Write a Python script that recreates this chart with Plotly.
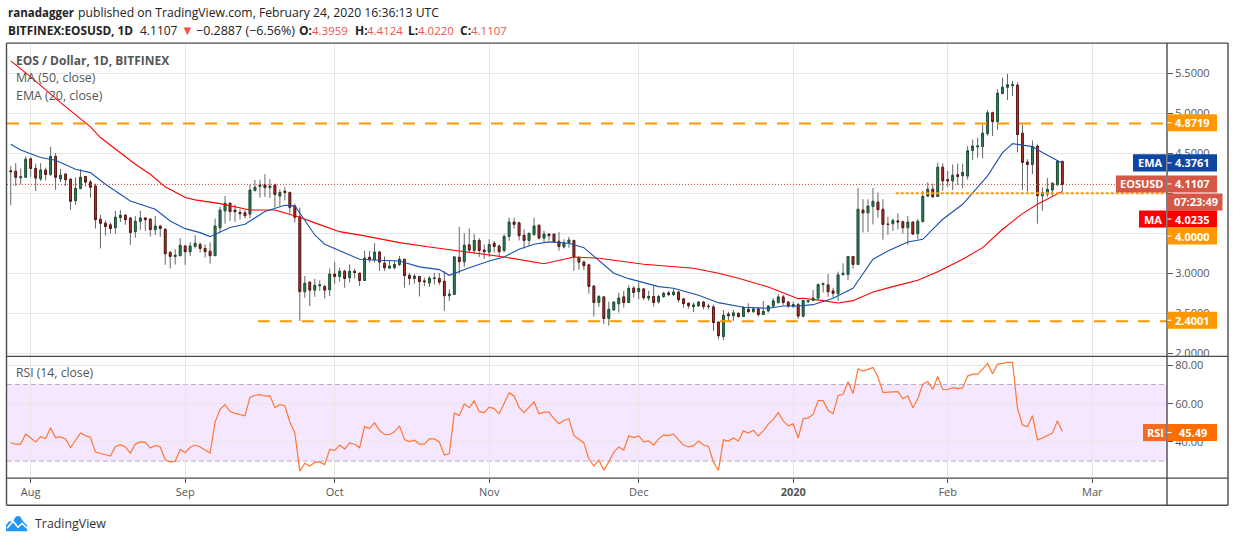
import pandas as pd
import plotly.graph_objects as go

W, H = 1234, 541
H_PAPER = 535.7

first_day = "2019-07-28"
opens = [4.28,4.275,4.195,4.20,4.43,4.31,4.18,4.29,4.235,4.46,
 4.18,4.24,4.175,3.91,4.06,4.21,4.14,4.09,3.675,3.625,
 3.605,3.57,3.695,3.725,3.69,3.52,3.65,3.69,3.675,3.545,
 3.59,3.55,3.26,3.21,3.22,3.34,3.27,3.335,3.36,3.31,
 3.275,3.22,3.57,3.78,3.875,3.79,3.76,3.755,3.74,4.035,
 4.085,4.105,4.07,4.105,3.965,4.025,4.01,3.84,3.705,2.77,
 2.89,2.79,2.845,2.835,2.795,2.99,2.96,3.025,2.945,3.025,
 3.00,2.91,3.20,3.17,3.265,3.125,3.065,3.07,3.11,3.175,
 2.975,2.935,2.96,2.905,2.88,2.935,2.935,2.90,2.72,2.735,
 3.20,3.145,3.355,3.285,3.41,3.29,3.265,3.375,3.34,3.285,
 3.46,3.64,3.63,3.475,3.41,3.485,3.60,3.44,3.49,3.49,
 3.40,3.33,3.385,3.41,3.195,3.14,3.105,2.84,2.635,2.705,
 2.435,2.545,2.62,2.705,2.635,2.815,2.77,2.805,2.69,2.71,
 2.645,2.71,2.755,2.735,2.765,2.68,2.625,2.585,2.595,2.64,
 2.59,2.58,2.39,2.21,2.49,2.47,2.50,2.46,2.55,2.52,
 2.555,2.485,2.53,2.59,2.635,2.705,2.64,2.585,2.61,2.465,
 2.645,2.66,2.69,2.86,2.855,2.78,2.745,2.985,2.985,3.21,
 3.11,3.79,3.755,3.835,3.89,3.80,3.615,3.62,3.655,3.645,
 3.57,3.64,3.495,3.645,3.965,4.05,3.96,4.325,4.17,4.155,
 4.23,4.22,4.215,4.535,4.58,4.585,4.745,5.005,4.895,5.245,
 5.325,5.345,5.35,4.75,4.39,4.36,4.59,3.97,3.99,4.04,4.105,4.3959]
closes = [4.27,4.20,4.205,4.425,4.31,4.19,4.29,4.235,4.46,4.20,
 4.225,4.17,3.90,4.06,4.20,4.14,4.075,3.67,3.625,3.585,
 3.56,3.70,3.725,3.67,3.51,3.65,3.69,3.67,3.545,3.59,
 3.56,3.245,3.21,3.225,3.35,3.27,3.34,3.375,3.31,3.27,
 3.22,3.59,3.79,3.875,3.77,3.77,3.745,3.72,4.04,4.075,
 4.105,4.07,4.09,3.985,4.01,4.01,3.825,3.70,2.77,2.875,
 2.79,2.85,2.855,2.79,2.99,2.96,3.025,2.935,3.025,3.01,
 2.91,3.19,3.17,3.265,3.14,3.07,3.09,3.11,3.175,2.97,
 2.935,2.965,2.895,2.895,2.94,2.94,2.89,2.72,2.74,3.205,
 3.145,3.35,3.29,3.41,3.285,3.27,3.36,3.335,3.27,3.46,
 3.64,3.61,3.47,3.41,3.50,3.59,3.44,3.49,3.47,3.395,
 3.335,3.38,3.415,3.205,3.14,3.095,2.835,2.635,2.71,2.435,
 2.55,2.64,2.69,2.635,2.81,2.76,2.81,2.695,2.71,2.635,
 2.71,2.75,2.735,2.765,2.67,2.62,2.595,2.605,2.64,2.585,
 2.585,2.385,2.22,2.475,2.47,2.505,2.46,2.57,2.52,2.555,
 2.485,2.525,2.59,2.655,2.705,2.635,2.59,2.61,2.465,2.66,
 2.66,2.69,2.86,2.87,2.77,2.75,2.98,3.00,3.21,3.11,
 3.80,3.755,3.84,3.90,3.795,3.61,3.61,3.66,3.64,3.57,
 3.64,3.49,3.65,3.96,4.05,3.955,4.325,4.155,4.155,4.225,
 4.21,4.26,4.53,4.59,4.59,4.75,5.005,4.895,5.25,5.325,
 5.355,5.355,4.735,4.385,4.36,4.585,3.97,4.01,4.05,4.125,4.40,4.1107]
highs = [4.34,4.375,4.31,4.46,4.445,4.37,4.375,4.32,4.58,4.50,
 4.305,4.245,4.185,4.195,4.30,4.215,4.165,4.12,3.73,3.66,
 3.635,3.78,3.79,3.74,3.705,3.715,3.78,3.705,3.69,3.715,
 3.605,3.56,3.28,3.30,3.44,3.355,3.39,3.475,3.385,3.36,
 3.385,3.685,3.83,3.965,3.885,3.86,3.80,3.79,4.11,4.165,
 4.17,4.24,4.175,4.12,4.05,4.08,4.02,3.87,3.82,2.965,
 2.89,2.93,2.91,2.855,3.06,3.14,3.07,3.045,3.11,3.06,
 3.01,3.28,3.28,3.375,3.28,3.21,3.155,3.16,3.215,3.18,
 3.005,2.99,2.965,2.945,2.965,3.005,3.005,3.03,2.80,3.205,
 3.58,3.50,3.56,3.49,3.44,3.36,3.425,3.405,3.36,3.49,
 3.695,3.695,3.645,3.55,3.50,3.695,3.61,3.53,3.50,3.495,
 3.515,3.425,3.455,3.42,3.215,3.16,3.12,2.85,2.73,2.71,
 2.645,2.645,2.76,2.78,2.85,2.84,2.885,2.81,2.78,2.84,
 2.73,2.77,2.78,2.81,2.78,2.695,2.635,2.635,2.655,2.655,
 2.62,2.605,2.395,2.54,2.52,2.54,2.51,2.59,2.625,2.57,
 2.57,2.655,2.605,2.69,2.74,2.73,2.655,2.645,2.635,2.665,
 2.67,2.79,2.87,2.885,2.99,2.82,3.02,3.125,3.21,3.21,
 4.065,3.925,3.925,4.065,4.01,3.925,3.705,3.685,3.75,3.655,
 3.715,3.645,3.68,4.03,4.135,4.12,4.385,4.375,4.28,4.36,
 4.37,4.37,4.59,4.67,4.695,4.855,5.04,5.02,5.30,5.445,
 5.49,5.405,5.385,4.855,4.425,4.66,4.61,4.07,4.19,4.135,4.4125,4.4124]
lows = [3.85,4.09,4.11,4.195,4.205,4.03,4.155,4.16,4.215,4.04,
 4.14,4.09,3.79,3.855,4.05,4.085,3.945,3.56,3.31,3.47,
 3.495,3.495,3.64,3.605,3.355,3.445,3.54,3.53,3.46,3.48,
 3.455,3.105,3.06,3.11,3.215,3.105,3.215,3.31,3.26,3.195,
 3.12,3.215,3.51,3.62,3.655,3.645,3.67,3.685,3.69,4.02,
 3.945,3.955,3.94,3.82,3.84,3.91,3.74,3.635,2.405,2.695,
 2.59,2.705,2.78,2.685,2.715,2.87,2.895,2.82,2.885,2.935,
 2.84,2.905,3.135,3.135,3.03,3.03,3.06,3.05,3.09,2.82,
 2.855,2.87,2.71,2.84,2.83,2.86,2.855,2.53,2.655,2.73,
 2.995,3.08,3.26,3.24,3.205,3.18,3.205,3.26,3.205,3.26,
 3.405,3.56,3.41,3.31,3.34,3.465,3.425,3.385,3.41,3.385,
 3.28,3.31,3.32,3.03,3.045,3.04,2.745,2.46,2.58,2.365,
 2.345,2.53,2.51,2.57,2.63,2.695,2.675,2.665,2.655,2.585,
 2.62,2.69,2.715,2.715,2.635,2.57,2.56,2.515,2.58,2.55,
 2.55,2.28,2.175,2.165,2.405,2.405,2.445,2.455,2.51,2.51,
 2.46,2.48,2.51,2.58,2.62,2.605,2.57,2.57,2.43,2.445,
 2.63,2.655,2.675,2.76,2.705,2.695,2.655,2.965,2.915,3.06,
 3.105,3.51,3.515,3.61,3.695,3.42,3.48,3.53,3.55,3.495,
 3.355,3.48,3.425,3.645,3.955,3.945,3.955,4.03,4.08,4.04,
 4.105,4.06,4.17,4.415,4.445,4.435,4.72,4.715,4.795,5.24,
 5.165,5.215,4.51,4.04,4.02,4.24,3.62,3.78,3.955,3.965,4.105,4.0220]

ma_index = [0,4,10,16,18,22,25,28,31,35,37,42,48,53,58,61,66,71,76,78,84,89,99,107,113,118,127,137,142,146,152,158,159,163,166,169,173,177,182,186,191,195,199,203,206,211]
ma_values = [5.654,5.454,5.133,4.83,4.696,4.508,4.3625,4.2375,4.08,3.946,3.917,3.87,3.79,3.79,3.70,3.63,3.52,3.467,3.41,3.383,3.329,3.2875,3.204,3.12,3.204,3.1875,3.1125,3.0625,3.00,2.9375,2.829,2.683,2.6875,2.658,2.629,2.658,2.767,2.833,2.9125,3.02,3.175,3.32,3.55,3.746,3.8625,4.0235]

ema_index = [0,2,6,9,13,16,19,21,24,29,32,35,38,40,42,44,47,49,51,55,57,59,61,63,66,70,74,78,82,86,88,92,96,99,102,105,108,112,115,118,121,124,130,133,138,142,147,152,155,158,161,165,169,173,176,180,183,187,191,196,199,201,203,205,207,209,211]
ema_values = [4.6125,4.54,4.446,4.4125,4.30,4.258,4.1125,4.03,3.904,3.80,3.654,3.558,3.508,3.458,3.512,3.571,3.6125,3.696,3.771,3.85,3.842,3.6625,3.479,3.3625,3.279,3.175,3.1625,3.154,3.08,3.046,2.975,3.07,3.154,3.204,3.30,3.3625,3.392,3.375,3.32,3.154,3.00,2.933,2.833,2.8125,2.725,2.633,2.575,2.5625,2.592,2.592,2.608,2.6875,2.8125,3.175,3.279,3.392,3.425,3.675,3.8625,4.217,4.508,4.62,4.604,4.583,4.508,4.4375,4.3761]

rsi_values = [39.6,38.9,38.9,44.2,42.1,40,42.8,41.8,47.4,42.3,
 42.6,41.6,37,40.9,44.7,43.3,42.3,34.7,34.2,33.3,
 32.6,37.5,38.6,37.4,34.2,38.9,40,39.8,36.8,38.2,
 37.4,30.7,29.5,30,36.1,34.4,37.2,38.4,37.4,35.8,
 34.2,50.4,57,59.5,56,54.9,54.2,53.7,63.3,64.4,
 64.7,63.9,64.2,57.9,59.5,58.9,50.4,44.7,24.7,28.9,
 27.4,29.3,29.6,28.2,36.1,35.6,38.4,36.3,39.5,38.8,
 37,48.1,47,50,46,43.9,43.9,45.3,48.4,41.2,
 40.2,40.9,38.9,38.9,41.6,41.6,40,33.2,34,55.1,
 53.7,59.8,57.9,61.4,55.8,55.3,58.2,57.4,54.7,60.2,
 65.6,64,58.1,55.3,58.1,60.9,54.7,55.6,55.6,52.1,
 49.5,51.2,52.1,43.3,41.4,39.5,31.1,27.4,30.5,25.3,
 29.6,34.6,37.4,35.8,43.2,42.3,43.2,40,40.5,38.4,
 41.6,43.7,43.3,44.2,41.1,38.4,37.4,38.1,40.5,38.4,
 37.7,29.6,25.1,41.1,40.5,42.1,40.5,45.8,44.7,46.1,
 43.2,45.8,49.3,51.8,55.3,51,48.4,49.5,42.1,52.1,
 52.6,54.4,61.6,61.6,56.5,54.7,64.2,64.9,71.4,65.3,
 78.2,77,77.9,78.9,74,65.8,66,66.3,66.3,62.6,
 64,57.9,62.6,70.2,71.6,67.4,74.2,67.4,67.4,68.4,
 67.9,68.2,74.4,75.4,75.4,78,81,75.6,80.5,81,
 81.6,81.6,57.7,48.9,47.9,53.7,41.1,42.1,43.2,44.6,51,45.49]

resistance_level = 4.8719
support_level = 4.0000
floor_level = 2.4001
last_price = 4.1107
ema_last = 4.3761
ma_last = 4.0235
rsi_last = 45.49
rsi_upper = 70
rsi_lower = 30

price_ticks = [2.0, 2.5, 3.0, 3.5, 4.0, 4.5, 5.0, 5.5]
price_tick_labels = ["2.0000", "2.5000", "3.0000", "", "", "4.5000", "5.0000", "5.5000"]
rsi_ticks = [40, 60, 80]
month_ticks = ["2019-08-01","2019-09-01","2019-10-01","2019-11-01","2019-12-01","2020-01-01","2020-02-01","2020-03-01"]
month_labels = ["Aug","Sep","Oct","Nov","Dec","<b>2020</b>","Feb","Mar"]
view_start = "2019-07-27 06:00"
view_end = "2020-03-16 00:00"
floor_start = "2019-09-15 14:00"
support_start = "2020-01-21 14:00"

FONT = "Open Sans"
GREY = "#555555"
FRAME = "#4a4a4a"
ORANGE = "#ff9800"
PRICE_RED = "#d65745"
L, R = 7, 1167

def px(x): return x / W
def py(y): return 1 - y / H_PAPER

dates = pd.date_range(first_day, periods=len(closes)).strftime("%Y-%m-%d").tolist()
body_high = [max(o, c) for o, c in zip(opens, closes)]
body_low = [min(o, c) for o, c in zip(opens, closes)]

fig = go.Figure()
fig.add_trace(go.Candlestick(x=dates, open=opens, high=highs, low=lows, close=closes,
    xaxis="x", yaxis="y", whiskerwidth=0, hoverinfo="skip",
    increasing=dict(line=dict(color="#666666", width=1), fillcolor="#666666"),
    decreasing=dict(line=dict(color="#666666", width=1), fillcolor="#666666")))
fig.add_trace(go.Candlestick(x=dates, open=opens, high=body_high, low=body_low, close=closes,
    xaxis="x", yaxis="y", whiskerwidth=0, hoverinfo="skip",
    increasing=dict(line=dict(color="#1b5236", width=1), fillcolor="#348a5c"),
    decreasing=dict(line=dict(color="#5c1512", width=1), fillcolor="#c63a2b")))

fig.add_trace(go.Scatter(x=[dates[i] for i in ma_index], y=ma_values, mode="lines",
    line=dict(color="#ff0000", width=1.1), xaxis="x", yaxis="y", hoverinfo="skip"))
fig.add_trace(go.Scatter(x=[dates[i] for i in ema_index], y=ema_values, mode="lines",
    line=dict(color="#1a52ad", width=1.1), xaxis="x", yaxis="y", hoverinfo="skip"))

fig.add_trace(go.Scatter(x=[view_start, view_end], y=[last_price, last_price], mode="lines",
    line=dict(color="#c8402f", width=1, dash="1px,2px"), xaxis="x", yaxis="y", hoverinfo="skip"))
fig.add_trace(go.Scatter(x=[view_start, view_end], y=[resistance_level, resistance_level], mode="lines",
    line=dict(color=ORANGE, width=2, dash="12px,10px"), xaxis="x", yaxis="y", hoverinfo="skip"))
fig.add_trace(go.Scatter(x=[floor_start, view_end], y=[floor_level, floor_level], mode="lines",
    line=dict(color=ORANGE, width=2, dash="12px,10px"), xaxis="x", yaxis="y", hoverinfo="skip"))
fig.add_trace(go.Scatter(x=[support_start, view_end], y=[support_level, support_level], mode="lines",
    line=dict(color=ORANGE, width=2, dash="3px,2px"), xaxis="x", yaxis="y", hoverinfo="skip"))

fig.add_trace(go.Scatter(x=dates, y=rsi_values, mode="lines",
    line=dict(color="#ff7733", width=1.2), xaxis="x2", yaxis="y2", hoverinfo="skip"))

shapes = []
shapes.append(dict(type="rect", xref="paper", yref="y2", x0=px(L), x1=px(R), y0=rsi_lower, y1=rsi_upper,
                   fillcolor="rgba(153,21,255,0.1)", line=dict(width=0), layer="below"))
for lvl in (rsi_upper, rsi_lower):
    shapes.append(dict(type="line", xref="paper", yref="y2", x0=px(L), x1=px(R), y0=lvl, y1=lvl,
                       line=dict(color="#b8afc0", width=1, dash="5px,3px"), layer="below"))

def frame(x0, y0, x1, y1):
    shapes.append(dict(type="line", xref="paper", yref="paper", x0=px(x0), x1=px(x1), y0=py(y0), y1=py(y1),
                       line=dict(color=FRAME, width=1.4)))
frame(6.5, 43, 1228, 43); frame(6.5, 504, 1228, 504); frame(6.5, 43, 6.5, 504); frame(1228, 43, 1228, 504)
frame(6.5, 355.5, 1228, 355.5); frame(6.5, 477, 1228, 477); frame(1167, 43, 1167, 504)

annotations = []
def text(x, y, s, size=13, color=GREY, anchor="left"):
    annotations.append(dict(xref="paper", yref="paper", x=px(x), y=py(y), text=s, showarrow=False,
                            xanchor=anchor, yanchor="middle", align=anchor, borderpad=0,
                            font=dict(family=FONT, size=size, color=color)))

def box(x0, x1, y0, y1, color, s, size=11):
    shapes.append(dict(type="rect", xref="paper", yref="paper", x0=px(x0), x1=px(x1), y0=py(y0), y1=py(y1),
                       fillcolor=color, line=dict(width=0)))
    text((x0 + x1) / 2 + 0.5, (y0 + y1) / 2, "<b>%s</b>" % s, size=size, color="#ffffff", anchor="center")

def value_box(y0, color, s):
    box(1167.5, 1217, y0, y0 + 17, color, s)
    m = y0 + 8.5
    shapes.append(dict(type="line", xref="paper", yref="paper", x0=px(1167.5), x1=px(1171.5), y0=py(m), y1=py(m),
                       line=dict(color="#ffffff", width=1)))

value_box(114, ORANGE, "%.4f" % resistance_level)
box(1133, 1166, 154, 171, "#0d47a1", "EMA")
value_box(154, "#0d47a1", "%.4f" % ema_last)
box(1116, 1166, 175, 192, PRICE_RED, "EOSUSD")
value_box(175, PRICE_RED, "%.4f" % last_price)
box(1167.5, 1222.5, 193, 210, PRICE_RED, "07:23:49")
box(1139, 1166, 210, 227, "#ff0000", "MA")
value_box(210, "#ff0000", "%.4f" % ma_last)
value_box(227, ORANGE, "%.4f" % support_level)
value_box(311, ORANGE, "%.4f" % floor_level)
box(1143, 1166, 423, 440, "#f56a1f", "RSI")
value_box(423, "#ff6d00", "%.2f" % rsi_last)

# header
INK = "#222222"
RED = "#ef5350"
text(6.5, 12, "<b>ranadagger</b>", size=11.5, color=INK)
text(77, 12, "published on TradingView.com, February 24, 2020 16:36:13 UTC", size=12.2, color=INK)
text(6.5, 30, "<b>BITFINEX:EOSUSD, 1D</b>", size=11.8, color=INK)
text(139, 30, "4.1107", size=12, color=INK)
text(180, 30, "▼", size=13, color=RED)
text(195, 30, "−0.2887 (−6.56%)", size=12.5, color=INK)
for lab, lab_x, val, val_x in [("O:", 298, "4.3959", 311), ("H:", 354, "4.4124", 366),
                               ("L:", 407, "4.0220", 417), ("C:", 459, "4.1107", 470)]:
    text(lab_x, 30, "<b>%s</b>" % lab, size=12, color=INK)
    text(val_x, 30, val, size=11.5, color=RED)
# legend
text(15, 60, "<b>EOS / Dollar, 1D, BITFINEX</b>", size=12)
text(15, 77, "MA (50, close)", size=12.4)
text(15, 95, "EMA (20, close)", size=12.4)
text(15, 372, "RSI (14, close)", size=12.2)

# logo
def P(x, y): return "%.5f,%.5f" % (px(x), py(y))
cloud = ("M" + P(6, 530) + " L" + P(6, 524) + " L" + P(9, 520) + " L" + P(13, 520) + " L" + P(16, 515) + " L" + P(20, 515)
         + " L" + P(23, 520) + " L" + P(27, 524) + " L" + P(27, 530) + " Z")
shapes.append(dict(type="path", xref="paper", yref="paper", path=cloud, fillcolor="#2196f3", line=dict(width=0)))
zig = "M" + P(7, 527) + " L" + P(13, 520) + " L" + P(18, 526) + " L" + P(22, 522) + " L" + P(27, 527)
shapes.append(dict(type="path", xref="paper", yref="paper", path=zig, line=dict(color="#ffffff", width=1.6)))
text(34, 522.5, "TradingView", size=12.4, color="#333333")

grid = "#e6e6e6"
fig.update_layout(
    width=W, height=H, margin=dict(l=0, r=0, t=0, b=0), autosize=False,
    paper_bgcolor="#ffffff", plot_bgcolor="#ffffff", showlegend=False,
    font=dict(family=FONT, size=12, color=GREY), boxgap=0.5,
    shapes=shapes, annotations=annotations, hovermode=False,
    xaxis=dict(domain=[px(L), px(R)], anchor="y", matches="x2", type="date", range=[view_start, view_end],
               tickvals=month_ticks, showticklabels=False, ticks="", showgrid=True, gridcolor=grid, gridwidth=1.4,
               rangeslider=dict(visible=False), zeroline=False, showline=False),
    yaxis=dict(domain=[py(355.5), py(43)], anchor="x", side="right", range=[1.962, 5.876],
               tickvals=price_ticks, ticktext=price_tick_labels, ticks="outside", ticklen=5, tickcolor=GREY, tickwidth=1,
               showgrid=True, gridcolor=grid, gridwidth=1.4, zeroline=False, showline=False,
               tickfont=dict(family=FONT, size=11, color=GREY)),
    xaxis2=dict(domain=[px(L), px(R)], anchor="y2", type="date", range=[view_start, view_end],
                tickvals=month_ticks, ticktext=month_labels, ticks="outside", ticklen=4, tickcolor=GREY,
                showgrid=True, gridcolor=grid, gridwidth=1.2, zeroline=False, showline=False,
                tickfont=dict(family=FONT, size=11, color=GREY)),
    yaxis2=dict(domain=[py(477), py(355.5)], anchor="x2", side="right", range=[21.1, 84.7],
                tickvals=rsi_ticks, tickformat=".2f", ticks="outside", ticklen=5, tickcolor=GREY, tickwidth=1,
                showgrid=True, gridcolor=grid, gridwidth=1.2, zeroline=False, showline=False,
                tickfont=dict(family=FONT, size=11, color=GREY)),
)

fig.write_html("out.html", config=dict(displayModeBar=False),
               post_script="document.body.style.margin='0';document.body.style.overflow='hidden';")
